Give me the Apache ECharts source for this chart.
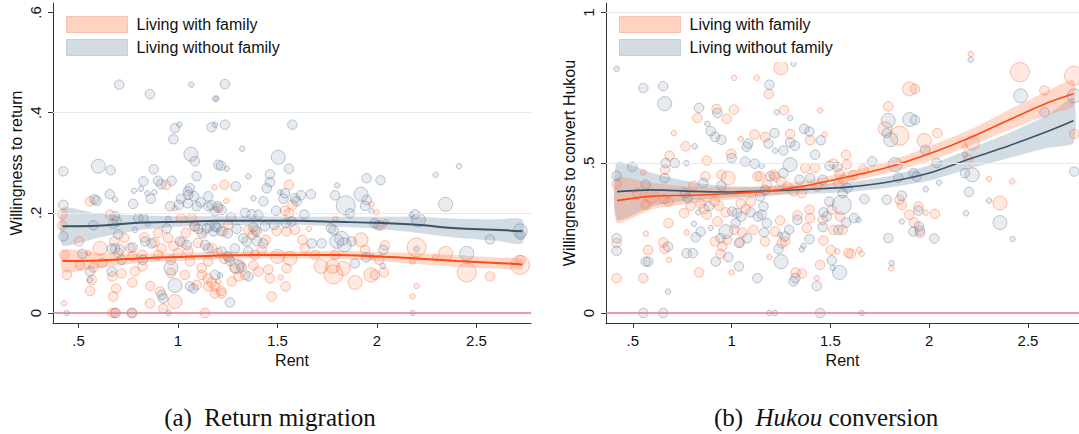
<!DOCTYPE html>
<html><head><meta charset="utf-8">
<script src="https://cdn.jsdelivr.net/npm/echarts@6/dist/echarts.min.js"></script>
<style>html,body{margin:0;padding:0;background:#fff}#c{width:1079px;height:434px}</style>
</head><body><div id="c"></div>
<script>
// ---------- data ----------
const seriesNames = ['Living with family', 'Living without family'];
const xTicks = [0.5, 1, 1.5, 2, 2.5];
const yTicksA = [0, 0.2, 0.4, 0.6];
const yTicksB = [0, 0.5, 1];
const gridValsA = [0.2, 0.4];
const gridValsB = [0.5, 1];

// panel (a): [rent, willingness to return, weight]
const retWith = [
[0.427,0.019,1],[0.442,0.076,2],[0.419,0.175,2],[0.419,0.197,2],[0.429,0.116,2],[0.558,0.223,2],[0.503,0.143,2],[0.608,0.129,3],[0.575,0.091,2],[0.508,0.096,2],[0.566,0.066,2],[0.558,0.044,2],[0.658,0.196,2],[0.68,0.143,2],[0.67,0.073,2],[0.689,0.049,2],[0.675,0.033,2],[0.67,0,2],[0.683,0,2],[0.771,0,2],[0.771,0.061,2],[0.717,0.079,2],[0.784,0.083,2],[0.821,0.093,2],[0.831,0.151,2],[0.771,0.113,2],[0.82,0.116,2],[0.881,0.141,2],[0.861,0.054,2],[0.859,0.019,2],[0.926,0.009,2],[0.91,0.043,2],[0.985,0.023,3],[0.965,0.106,2],[0.918,0.129,2],[0.965,0.08,2],[1.035,0.076,2],[1.06,0.103,2],[1.094,0.056,2],[1.12,0.076,2],[1.183,0.251,1],[1.152,0.053,2],[1.149,0.069,2],[1.169,0.061,2],[1.186,0.039,2],[0.94,0.256,2],[0.985,0.209,1],[1.015,0.189,2],[1.069,0.189,2],[1.082,0.173,2],[1.152,0.103,2],[0.977,0.134,2],[0.901,0.116,2],[1.022,0.141,2],[1.052,0.123,2],[1.119,0.09,2],[1.136,0,2],
[0.73,0.15,2],[0.76,0.13,2],[0.9,0.16,2],[0.95,0.15,2],[1.0,0.12,2],[1.04,0.16,2],[1.1,0.14,2],[1.13,0.16,1],[1.17,0.13,2],[1.2,0.12,2],[0.55,0.12,1],[0.62,0.1,2],[0.7,0.12,2],
[1.233,0.256,2],[1.243,0.224,1],[1.203,0.209,2],[1.558,0.256,2],[1.537,0.204,2],[1.575,0.216,2],[1.558,0.199,2],[1.253,0.176,2],[1.228,0.163,2],[1.354,0.166,2],[1.375,0.156,2],[1.387,0.166,2],[1.496,0.164,2],[1.546,0.163,2],[1.588,0.166,2],[1.625,0.146,2],[1.638,0.129,2],[1.658,0.168,1],[1.501,0.113,3],[1.563,0.109,3],[1.387,0.116,2],[1.421,0.126,2],[1.441,0.146,2],[1.256,0.111,2],[1.233,0.108,2],[1.286,0.089,2],[1.312,0.096,2],[1.337,0.076,2],[1.379,0.095,2],[1.404,0.083,2],[1.454,0.087,2],[1.546,0.089,2],[1.462,0.069,2],[1.27,0.063,2],[1.303,0.073,2],[1.203,0.063,1],[1.186,0.053,2],[1.216,0.044,2],[1.22,0.039,2],[1.471,0.033,2],[1.541,0.053,2],[1.516,0.071,1],[1.719,0.093,3],[1.689,0.116,2],[1.777,0.093,3],[1.781,0.077,4],[1.831,0.089,3],[1.89,0.061,3],[1.92,0.146,3],[1.97,0.076,3],[2.012,0.106,2],[1.789,0.116,2],[1.792,0.188,1],[1.94,0.126,2],[1.973,0.217,1],[1.998,0.201,1],
[2.04,0.135,2],[2.02,0.175,2],[2.035,0.081,2],[2.199,0.131,4],[2.178,0.103,1],[2.199,0.054,1],[2.179,0.033,1],[2.345,0.119,3],[2.292,0.111,1],[2.451,0.081,4],[2.568,0.073,2],[2.719,0.096,4],[2.722,0.105,2],[1.99,0.076,2]
];
const retWithout = [
[0.705,0.456,2],[0.859,0.437,2],[1.067,0.456,1],[1.186,0.428,1],[0.985,0.369,2],[1.007,0.376,1],[0.977,0.347,2],[1.065,0.317,3],[1.085,0.303,2],[1.169,0.371,2],[1.203,0.296,2],[0.6,0.293,3],[0.424,0.283,2],[0.662,0.285,2],[0.878,0.287,2],[1.094,0.273,2],[0.826,0.263,2],[0.9,0.264,2],[0.915,0.257,2],[0.968,0.264,2],[0.657,0.237,2],[0.684,0.227,1],[0.58,0.227,2],[0.591,0.224,2],[0.779,0.244,1],[0.814,0.248,1],[0.846,0.239,1],[0.881,0.241,1],[0.863,0.228,2],[0.774,0.218,2],[1.05,0.243,2],[1.06,0.249,2],[1.052,0.236,2],[1.015,0.228,2],[1.082,0.233,2],[1.114,0.221,2],[1.152,0.233,2],[1.005,0.216,2],[1.049,0.219,2],[1.094,0.213,2],[1.152,0.213,2],[1.169,0.215,2],[1.2,0.213,2],[0.424,0.216,2],[0.96,0.213,2],[0.951,0.188,1],[0.943,0.169,2],[0.684,0.193,2],[0.692,0.183,2],[0.675,0.178,2],[0.575,0.175,2],[0.801,0.189,2],[0.826,0.189,2],[0.784,0.166,1],[0.848,0.178,1],[0.868,0.139,2],[0.7,0.157,2],[0.772,0.131,2],[0.667,0.128,2],[0.684,0.129,2],[0.709,0.127,2],[0.424,0.153,2],[0.558,0.083,2],[0.558,0.066,1],[0.667,0.083,2],[0.717,0.106,2],[0.823,0.106,2],[0.918,0.036,2],[0.926,0.029,2],[0.985,0.055,3],[1.06,0.053,2],[1.077,0.049,2],[0.441,0,1],[0.687,0,2],[0.767,0,2],[0.952,0,1],[1.186,0.076,2],[1.085,0.173,2],[1.102,0.168,2],[1.122,0.159,2],[1.144,0.169,2],[1.161,0.173,2],[1.178,0.163,2],[1.195,0.171,2],[1.136,0.136,2],[1.152,0.129,2],[1.044,0.136,2],[1.01,0.143,2],[0.965,0.09,3],[0.835,0.143,2],[0.52,0.118,2],
[1.236,0.457,2],[1.194,0.428,1],[1.236,0.376,2],[1.186,0.376,1],[1.575,0.376,2],[1.323,0.328,1],[1.504,0.311,3],[1.216,0.294,2],[1.245,0.288,1],[1.558,0.288,2],[1.29,0.253,2],[1.353,0.273,1],[1.462,0.277,2],[1.462,0.261,2],[1.446,0.249,2],[1.429,0.223,2],[1.379,0.229,1],[1.513,0.241,1],[1.538,0.239,2],[1.53,0.228,2],[1.588,0.229,2],[1.618,0.235,2],[1.596,0.223,2],[1.668,0.237,2],[1.789,0.235,2],[1.8,0.255,1],[1.843,0.215,4],[1.92,0.237,3],[1.948,0.269,2],[1.948,0.226,2],[1.94,0.214,2],[1.864,0.199,2],[1.973,0.203,1],[1.186,0.203,2],[1.219,0.206,2],[1.266,0.191,2],[1.337,0.2,2],[1.37,0.197,2],[1.404,0.196,2],[1.493,0.204,2],[1.541,0.179,2],[1.571,0.183,2],[1.635,0.197,2],[1.186,0.173,2],[1.216,0.163,2],[1.25,0.159,2],[1.295,0.168,2],[1.379,0.171,2],[1.395,0.163,2],[1.437,0.173,2],[1.484,0.176,2],[1.781,0.166,2],[1.769,0.169,2],[1.823,0.149,3],[1.798,0.143,3],[1.836,0.136,3],[1.873,0.143,2],[1.889,0.099,2],[1.722,0.139,2],[1.672,0.139,2],[1.328,0.149,2],[1.345,0.143,2],[1.395,0.144,2],[1.429,0.139,2],[1.286,0.129,2],[1.353,0.123,2],[1.219,0.123,2],[1.25,0.113,2],[1.261,0.104,2],[1.295,0.093,3],[1.354,0.073,2],[1.32,0.091,2],[1.211,0.075,1],[1.261,0.021,2],[1.973,0.113,1],[1.945,0.111,2],
[2.412,0.293,1],[2.295,0.276,1],[2.018,0.265,2],[2.345,0.217,3],[2.191,0.197,2],[2.174,0.196,1],[2.208,0.186,3],[2.044,0.181,1],[1.99,0.179,2],[2.007,0.175,2],[2.568,0.147,2],[2.719,0.164,3],[2.722,0.156,2],[2.451,0.119,3],[2.032,0.126,2],[2.029,0.094,1],[2.179,0,1],[2.199,0.128,1]
];

// panel (b): [rent, willingness to convert hukou, weight]
const hkWith = [
[0.418,0.43,2],[0.418,0.233,2],[0.418,0.116,2],[0.553,0.116,2],[0.565,0.264,1],[0.577,0.21,2],[0.654,0.235,2],[0.661,0.213,2],[0.683,0.177,1],[0.68,0.299,2],[0.708,0.599,1],[0.767,0.555,2],[0.686,0.524,2],[0.663,0.477,2],[0.553,0.468,1],[0.594,0.388,3],[0.565,0.36,2],[0.523,0.399,2],[0.658,0.38,2],[0.68,0.371,2],[0.772,0.268,1],[0.759,0.333,2],[0.793,0.357,2],[0.806,0.424,2],[0.826,0.649,2],[0.924,0.679,2],[0.975,0.647,2],[1.012,0.677,2],[0.998,0.53,2],[1.046,0.579,1],[1.116,0.594,2],[1.13,0.455,2],[0.874,0.507,2],[0.868,0.455,2],[0.948,0.46,2],[0.982,0.449,3],[0.843,0.364,2],[0.86,0.346,2],[0.914,0.371,2],[0.936,0.357,2],[1.046,0.364,2],[1.071,0.346,2],[1.096,0.371,2],[0.97,0.335,2],[0.874,0.327,2],[0.928,0.305,2],[1.012,0.277,2],[1.054,0.268,2],[1.11,0.277,2],[0.916,0.238,2],[0.978,0.244,2],[0.953,0.221,2],[0.944,0.197,2],[1.042,0.235,2],[0.835,0.135,2],[1.0,0.135,1],[1.012,0.783,1],[1.127,0.783,1],
[1.249,0.816,3],[1.188,0.729,2],[1.265,0.675,2],[1.448,0.674,1],[1.296,0.596,2],[1.397,0.575,2],[1.47,0.594,1],[1.579,0.526,2],[1.793,0.688,2],[1.777,0.613,3],[1.849,0.59,4],[1.9,0.746,3],[1.169,0.586,2],[1.212,0.46,2],[1.22,0.453,2],[1.249,0.438,2],[1.282,0.421,2],[1.313,0.405,2],[1.355,0.399,2],[1.372,0.483,2],[1.422,0.483,2],[1.434,0.421,2],[1.515,0.497,2],[1.583,0.494,2],[1.546,0.464,2],[1.667,0.477,2],[1.616,0.46,2],[1.144,0.455,2],[1.178,0.427,2],[1.394,0.344,2],[1.333,0.325,2],[1.397,0.316,2],[1.461,0.31,2],[1.507,0.344,2],[1.549,0.321,2],[1.515,0.277,2],[1.562,0.277,2],[1.464,0.241,2],[1.38,0.283,2],[1.245,0.308,2],[1.22,0.271,2],[1.169,0.238,2],[1.27,0.238,2],[1.253,0.232,2],[1.502,0.21,2],[1.535,0.205,1],[1.591,0.2,2],[1.603,0.197,2],[1.645,0.21,1],[1.658,0.197,1],[1.191,0.186,1],[1.448,0.16,2],[1.324,0.135,2],[1.355,0.131,2],[1.431,0.116,1],[1.807,0.149,1],[1.861,0.36,2],[1.898,0.327,2],[1.923,0.301,2],[1.849,0.377,2],[1.566,0.444,2],[1.54,0.433,2],
[2.21,0.862,1],[2.459,0.802,4],[2.733,0.79,4],[2.583,0.741,2],[2.734,0.596,2],[1.928,0.746,2],[2.041,0.599,2],[1.975,0.574,3],[2.218,0.566,3],[2.181,0.554,1],[2.198,0.512,2],[2.303,0.446,1],[2.42,0.438,1],[2.358,0.366,3],[2.029,0.33,2],[1.982,0.334,1],[1.945,0.354,2],[1.953,0.266,2]
];
const hkWithout = [
[0.418,0.813,1],[0.553,0.749,2],[0.653,0.755,2],[0.661,0.697,3],[0.835,0.683,2],[0.928,0.666,2],[0.877,0.63,1],[0.894,0.605,2],[0.916,0.586,2],[0.948,0.577,2],[1.076,0.553,2],[1.084,0.564,2],[1.0,0.516,2],[1.068,0.504,2],[1.117,0.497,2],[0.813,0.555,1],[0.712,0.499,2],[0.771,0.499,1],[0.666,0.499,2],[0.497,0.486,2],[0.418,0.457,2],[0.565,0.427,2],[0.661,0.449,2],[0.857,0.433,2],[0.948,0.424,2],[0.764,0.399,2],[0.776,0.383,2],[0.831,0.335,1],[0.885,0.355,2],[1.003,0.338,2],[1.026,0.333,2],[1.049,0.321,2],[1.02,0.299,2],[1.096,0.335,2],[1.133,0.321,2],[0.894,0.283,1],[0.971,0.271,3],[0.809,0.297,1],[0.818,0.252,2],[0.843,0.271,2],[1.079,0.249,2],[1.037,0.233,2],[0.944,0.249,2],[0.418,0.249,2],[0.418,0.207,2],[0.678,0.221,2],[0.565,0.171,2],[0.578,0.171,2],[0.772,0.199,2],[0.803,0.199,2],[0.919,0.171,2],[0.983,0.186,2],[1.037,0.155,2],[0.678,0.071,1],[0.553,0,2],[0.654,0,2],[1.13,0.116,2],
[1.313,0.83,1],[1.191,0.76,2],[1.228,0.668,1],[1.296,0.649,1],[1.367,0.613,2],[1.394,0.604,2],[1.217,0.599,2],[1.186,0.564,2],[1.296,0.568,2],[1.321,0.557,2],[1.262,0.541,2],[1.22,0.54,1],[1.451,0.575,2],[1.422,0.527,2],[1.296,0.494,3],[1.152,0.49,1],[1.397,0.449,2],[1.343,0.444,2],[1.262,0.466,2],[1.195,0.455,2],[1.495,0.49,2],[1.535,0.486,2],[1.461,0.444,2],[1.586,0.416,2],[1.562,0.399,2],[1.711,0.505,2],[1.792,0.641,3],[1.901,0.644,3],[1.805,0.577,3],[1.785,0.599,2],[1.827,0.494,3],[1.844,0.451,2],[1.785,0.377,2],[1.861,0.391,2],[1.92,0.466,2],[1.672,0.379,2],[1.557,0.36,4],[1.495,0.371,2],[1.465,0.335,2],[1.481,0.321,2],[1.62,0.316,2],[1.642,0.31,1],[1.579,0.301,2],[1.54,0.277,2],[1.461,0.286,2],[1.394,0.246,2],[1.363,0.224,1],[1.333,0.31,2],[1.291,0.277,2],[1.245,0.26,1],[1.27,0.255,2],[1.237,0.213,2],[1.25,0.171,3],[1.355,0.212,1],[1.507,0.175,2],[1.512,0.15,1],[1.546,0.135,3],[1.793,0.249,2],[1.92,0.271,2],[1.861,0.305,1],[1.81,0.166,1],[1.313,0.105,2],[1.322,0.116,2],[1.431,0.09,2],[1.144,0.388,2],[1.169,0.41,2],[1.161,0.355,2],[1.152,0.327,2],[1.178,0.299,2],[1.164,0.268,2],[1.191,0,1],[1.22,0,1],[1.448,0,2],[1.658,0,1],
[2.21,0.843,1],[2.463,0.723,3],[2.734,0.723,3],[2.583,0.668,2],[1.979,0.543,2],[2.038,0.499,2],[1.928,0.643,2],[1.936,0.454,2],[2.218,0.46,3],[2.181,0.466,2],[2.049,0.434,1],[1.982,0.412,1],[2.201,0.403,2],[2.303,0.374,1],[2.186,0.332,1],[2.358,0.301,3],[1.945,0.341,2],[1.948,0.288,2],[1.953,0.274,2],[2.026,0.248,2],[2.422,0.246,1],[2.734,0.471,2],[2.181,0.527,1]
];

// local polynomial fits with confidence intervals
const fitX = [0.42, 0.6, 0.8, 1.0, 1.2, 1.4, 1.6, 1.8, 2.0, 2.2, 2.4, 2.6, 2.73];
const retWithFit = [0.104,0.105,0.109,0.112,0.115,0.116,0.116,0.116,0.113,0.109,0.104,0.100,0.097];
const retWithLo  = [0.082,0.090,0.100,0.104,0.108,0.109,0.109,0.108,0.104,0.098,0.092,0.089,0.088];
const retWithHi  = [0.126,0.120,0.118,0.120,0.122,0.123,0.123,0.124,0.122,0.120,0.116,0.111,0.107];
const retWoFit = [0.173,0.174,0.180,0.182,0.184,0.184,0.184,0.182,0.180,0.176,0.169,0.166,0.163];
const retWoLo  = [0.135,0.150,0.165,0.172,0.175,0.176,0.176,0.172,0.168,0.160,0.150,0.144,0.139];
const retWoHi  = [0.210,0.198,0.195,0.193,0.193,0.193,0.192,0.192,0.192,0.192,0.188,0.187,0.187];
const hkWithFit = [0.374,0.389,0.392,0.398,0.407,0.427,0.455,0.487,0.530,0.582,0.642,0.700,0.730];
const hkWithLo  = [0.300,0.345,0.365,0.378,0.390,0.410,0.438,0.468,0.505,0.555,0.608,0.660,0.688];
const hkWithHi  = [0.449,0.433,0.420,0.418,0.424,0.444,0.472,0.506,0.555,0.608,0.675,0.740,0.777];
const hkWoFit = [0.404,0.410,0.405,0.403,0.407,0.412,0.420,0.437,0.466,0.512,0.556,0.605,0.640];
const hkWoLo  = [0.310,0.355,0.375,0.385,0.392,0.397,0.404,0.418,0.440,0.480,0.515,0.550,0.566];
const hkWoHi  = [0.501,0.465,0.435,0.421,0.422,0.427,0.436,0.456,0.492,0.545,0.598,0.660,0.716];

// ---------- styles ----------
const FONT = '"Liberation Sans", Arial, sans-serif';
const SERIF = '"Liberation Serif", "DejaVu Serif", serif';
const sizeByWeight = [0, 5.5, 9.5, 14, 19];
const C = {
  oLine: '#ff4a14', bLine: '#3b5567',
  oFill: 'rgba(255,120,70,0.2)', oStroke: 'rgba(250,105,55,0.5)',
  bFill: 'rgba(125,148,168,0.22)', bStroke: 'rgba(95,120,145,0.5)',
  oBand: 'rgba(255,125,80,0.3)', bBand: 'rgba(125,150,172,0.34)',
  grid: '#e2ecef', zero: '#e07a92', axis: '#333', text: '#111'
};

const fmt = v => { const s = String(+(+v).toFixed(2)); return s.startsWith('0.') ? s.slice(1) : s; };
const zip = (xs, ys) => xs.map((x, i) => [x, ys[i]]);

function xAxisCfg(gi, min, max) {
  return {
    type: 'value', gridIndex: gi, min, max,
    axisLine: { show: true, onZero: false, lineStyle: { color: C.axis, width: 1 } },
    axisTick: { show: true, length: 5, customValues: xTicks, lineStyle: { color: C.axis } },
    axisLabel: { customValues: xTicks, formatter: fmt, fontSize: 15, color: C.text, fontFamily: FONT, margin: 10 },
    splitLine: { show: false },
    name: 'Rent', nameLocation: 'middle', nameGap: 29,
    nameTextStyle: { fontSize: 16, color: C.text, fontFamily: FONT }
  };
}
function yAxisCfg(gi, min, max, ticks, name) {
  return {
    type: 'value', gridIndex: gi, min, max,
    axisLine: { show: true, onZero: false, lineStyle: { color: C.axis, width: 1 } },
    axisTick: { show: true, length: 5, customValues: ticks, lineStyle: { color: C.axis } },
    axisLabel: { customValues: ticks, formatter: fmt, rotate: 90, fontSize: 15, color: C.text, fontFamily: FONT, margin: 10 },
    splitLine: { show: false },
    name, nameLocation: 'middle', nameGap: 29,
    nameTextStyle: { fontSize: 16, color: C.text, fontFamily: FONT }
  };
}
function scatter(name, gi, data, fill, stroke, marks) {
  const s = {
    type: 'scatter', name: name, xAxisIndex: gi, yAxisIndex: gi, data,
    symbolSize: v => sizeByWeight[v[2]],
    itemStyle: { color: fill, borderColor: stroke, borderWidth: 1 },
    silent: true
  };
  if (marks) {
    s.markLine = {
      silent: true, symbol: 'none', label: { show: false }, animation: false,
      lineStyle: { color: C.grid, width: 1, type: 'solid' },
      data: marks.grid.map(v => ({ yAxis: v })).concat([{ yAxis: 0, lineStyle: { color: C.zero, width: 1.5, type: 'solid' } }])
    };
  }
  return s;
}
function band(name, gi, lo, hi, color) {
  return {
    type: 'custom', name, xAxisIndex: gi, yAxisIndex: gi, silent: true,
    data: fitX.map((x, i) => [x, lo[i], hi[i]]),
    encode: { x: 0, y: [1, 2] },
    itemStyle: { color },
    renderItem: (params, api) => {
      if (params.dataIndex !== 0) return null;
      const top = fitX.map((x, i) => api.coord([x, hi[i]]));
      const bot = fitX.map((x, i) => api.coord([x, lo[i]])).reverse();
      return { type: 'polygon', shape: { points: top.concat(bot), smooth: 0.2 }, style: { fill: color } };
    }
  };
}
function fitLine(gi, ys, color, w) {
  return {
    type: 'line', name: '_fit', xAxisIndex: gi, yAxisIndex: gi, data: zip(fitX, ys),
    symbol: 'none', smooth: 0.3, silent: true, lineStyle: { color, width: w }
  };
}
function legendCfg(left) {
  return {
    orient: 'vertical', left, top: 8, padding: [8, 14, 6, 11], backgroundColor: '#fff',
    itemWidth: 61, itemHeight: 16, itemGap: 6, selectedMode: false,
    textStyle: { fontSize: 16, color: C.text, fontFamily: FONT, padding: [0, 0, 0, 4] },
    data: [
      { name: seriesNames[0], icon: 'rect', itemStyle: { color: 'rgba(255,140,100,0.38)', borderColor: 'rgba(250,120,80,0.35)', borderWidth: 1 } },
      { name: seriesNames[1], icon: 'rect', itemStyle: { color: 'rgba(130,152,172,0.34)', borderColor: 'rgba(120,140,160,0.3)', borderWidth: 1 } }
    ]
  };
}

const chart = echarts.init(document.getElementById('c'), null, { renderer: 'svg' });
chart.setOption({
  animation: false,
  backgroundColor: '#fff',
  grid: [
    { left: 53, right: 548, top: 3, bottom: 111 },
    { left: 606, right: 0, top: 3, bottom: 111 }
  ],
  xAxis: [xAxisCfg(0, 0.372, 2.774), xAxisCfg(1, 0.364, 2.758)],
  yAxis: [
    yAxisCfg(0, -0.02, 0.619, yTicksA, 'Willingness to return'),
    yAxisCfg(1, -0.0333, 1.032, yTicksB, 'Willingness to convert Hukou')
  ],
  legend: [legendCfg(55), legendCfg(608)],
  series: [
    scatter('pts_a_with', 0, retWith, C.oFill, C.oStroke, { grid: gridValsA }),
    scatter('pts_a_wo', 0, retWithout, C.bFill, C.bStroke),
    band(seriesNames[1], 0, retWoLo, retWoHi, C.bBand),
    band(seriesNames[0], 0, retWithLo, retWithHi, C.oBand),
    fitLine(0, retWoFit, C.bLine, 2),
    fitLine(0, retWithFit, C.oLine, 2),
    scatter('pts_b_with', 1, hkWith, C.oFill, C.oStroke, { grid: gridValsB }),
    scatter('pts_b_wo', 1, hkWithout, C.bFill, C.bStroke),
    band(seriesNames[1], 1, hkWoLo, hkWoHi, C.bBand),
    band(seriesNames[0], 1, hkWithLo, hkWithHi, C.oBand),
    fitLine(1, hkWoFit, C.bLine, 1.6),
    fitLine(1, hkWithFit, C.oLine, 1.6)
  ],
  graphic: [
    { type: 'text', x: 270, y: 417, style: { text: '(a)\u2002Return migration', font: '25px ' + SERIF, fill: C.text, align: 'center', verticalAlign: 'middle' } },
    { type: 'text', x: 826, y: 417, style: {
        text: '{n|(b)\u2002}{i|Hukou}{n| conversion}', align: 'center', verticalAlign: 'middle', fill: C.text,
        rich: { n: { fontSize: 25, fontFamily: SERIF, fill: C.text }, i: { fontSize: 25, fontFamily: SERIF, fontStyle: 'italic', fill: C.text } }
    } }
  ]
});
</script>
</body></html>
